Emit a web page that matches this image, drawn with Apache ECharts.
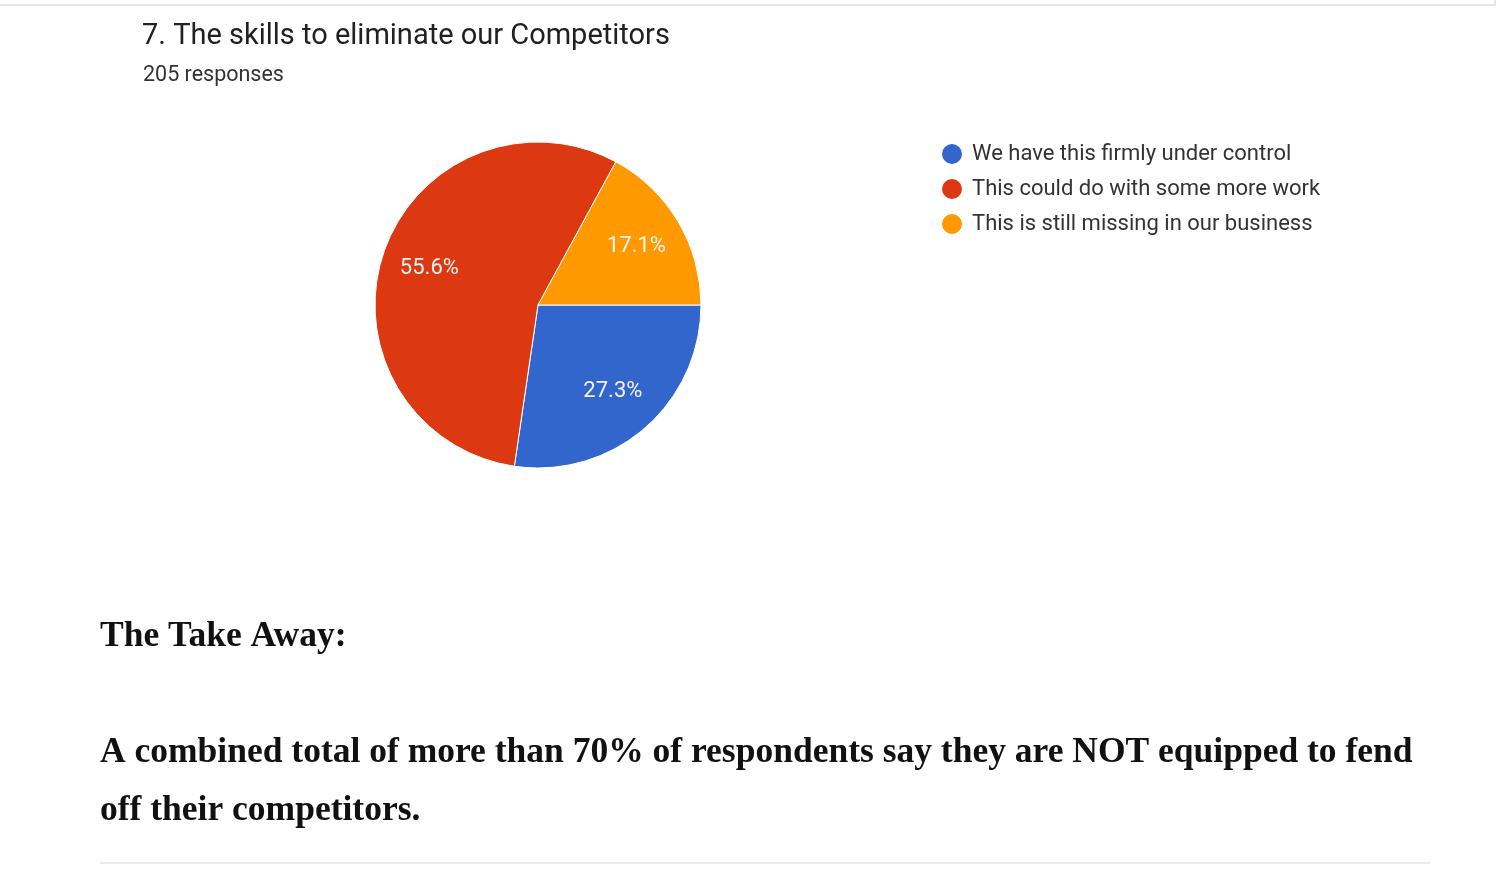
<!DOCTYPE html>
<html>
<head>
<meta charset="utf-8">
<script src="https://cdn.jsdelivr.net/npm/echarts@6/dist/echarts.min.js"></script>
<style>
html,body{margin:0;padding:0;background:#fff;}
#chart{width:1500px;height:869px;}
</style>
</head>
<body>
<div id="chart"></div>
<script>
const chartTitle = '7. The skills to eliminate our Competitors';
const subTitle = '205 responses';
const categories = ['We have this firmly under control', 'This could do with some more work', 'This is still missing in our business'];
const responses = [56, 114, 35];
const colors = ['#3366CC', '#DC3912', '#FF9900'];
const takeAwayHead = 'The Take Away:';
const takeAwayLines = ['A combined total of more than 70% of respondents say they are NOT equipped to fend', 'off their competitors.'];

const data = categories.map((c, i) => ({ name: c, value: responses[i], itemStyle: { color: colors[i] } }));

const chart = echarts.init(document.getElementById('chart'));
chart.setOption({
  backgroundColor: '#fff',
  animation: false,
  title: [
    { text: chartTitle, left: 137, top: 17, textStyle: { fontFamily: 'Roboto', fontWeight: 'normal', fontSize: 29, color: '#202124' } },
    { text: subTitle, left: 138, top: 60, textStyle: { fontFamily: 'Roboto', fontWeight: 'normal', fontSize: 21.5, color: '#333' } }
  ],
  legend: {
    orient: 'vertical', left: 935, top: 137, icon: 'circle', itemWidth: 22, itemHeight: 22, itemGap: 11,
    data: categories,
    textStyle: { fontFamily: 'Roboto', fontSize: 22, lineHeight: 22, color: '#333', padding: [0, 0, 0, 4] }
  },
  series: [
    {
      type: 'pie', center: [538, 305], radius: [0, 163], startAngle: 0, clockwise: true,
      silent: true, data: data, label: { show: false }, labelLine: { show: false },
      itemStyle: { borderColor: '#fff', borderWidth: 1 }
    },
    {
      type: 'pie', center: [538, 305], radius: [60, 163], startAngle: 0, clockwise: true,
      silent: true, percentPrecision: 1,
      data: data.map(d => ({ name: d.name, value: d.value, itemStyle: { color: 'rgba(0,0,0,0)' } })),
      label: { show: true, position: 'inside', formatter: '{d}%', fontFamily: 'Roboto', fontSize: 22, color: '#f4f4f4', padding: [5, 0, 0, 0] },
      labelLine: { show: false }
    }
  ],
  graphic: [
    { type: 'rect', shape: { x: 0, y: 4, width: 1496, height: 2 }, style: { fill: '#e6e6e6' } },
    { type: 'rect', shape: { x: 1494, y: 0, width: 2, height: 6 }, style: { fill: '#e6e6e6' } },
    { type: 'text', left: 100, top: 619, style: { text: takeAwayHead, font: 'bold 35.5px "Liberation Serif"', fill: '#111' } },
    { type: 'text', left: 100, top: 735, style: { text: takeAwayLines[0], font: 'bold 35.5px "Liberation Serif"', fill: '#111' } },
    { type: 'text', left: 100, top: 793, style: { text: takeAwayLines[1], font: 'bold 35.5px "Liberation Serif"', fill: '#111' } },
    { type: 'rect', shape: { x: 100, y: 862, width: 1330, height: 2 }, style: { fill: '#ececec' } }
  ]
});
</script>
</body>
</html>
